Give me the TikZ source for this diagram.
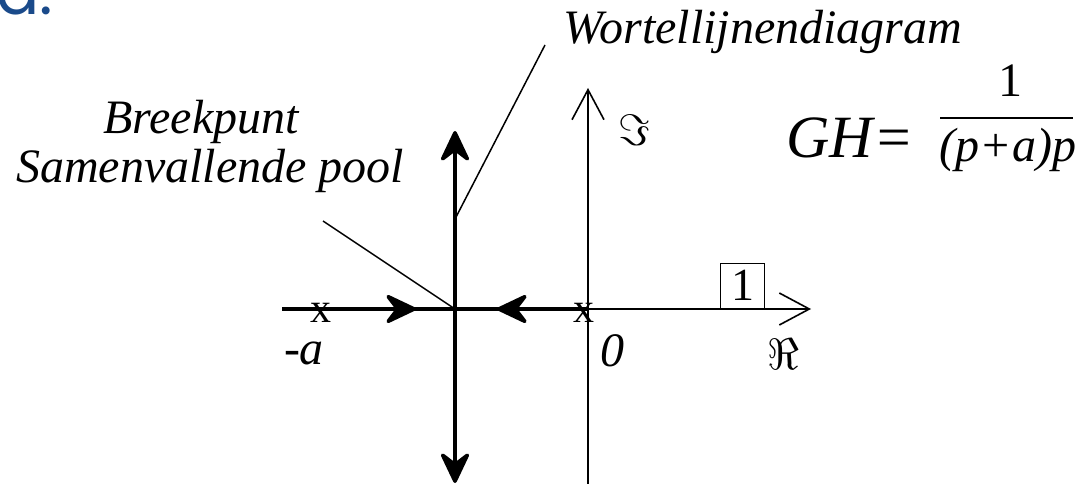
\documentclass[tikz,border=0pt]{standalone}
\usepackage{fontspec}
\setmainfont{Liberation Serif}
\newfontfamily\headfont{Poppins}
\usetikzlibrary{arrows.meta}
\definecolor{headblue}{HTML}{1A4A8A}
\begin{document}
\begin{tikzpicture}[x=1pt,y=-1pt,
  lbl/.style={font=\fontsize{48}{56}\selectfont\itshape, inner sep=0pt, anchor=base},
  upr/.style={font=\fontsize{48}{56}\selectfont, inner sep=0pt, anchor=base},
  axisline/.style={line width=1.6pt},
  axisarrow/.style={axisline, -{Straight Barb[length=30pt,width=32pt,line width=1.6pt]}},
  locus/.style={line width=3.6pt},
  locusarrow/.style={locus, -{Stealth[length=36pt,width=34pt,inset=13pt,round]}},
  leader/.style={line width=1.5pt}
]
\useasboundingbox (0,0) rectangle (1080,484);
\clip (0,0) rectangle (1080,484);

% partial heading at top left
\node[font=\fontsize{64}{70}\selectfont\headfont, text=headblue, inner sep=0pt, anchor=base west] (head) at (-4,15) {d.};

% key points
\coordinate (axL) at (282,309);
\coordinate (axR) at (811,309);
\coordinate (bp) at (455,309);
\coordinate (p0) at (588,309);
\coordinate (imT) at (588,88);
\coordinate (imB) at (588,490);
\coordinate (vT) at (455,131);
\coordinate (vB) at (455,483);
\coordinate (aR) at (416,309);
\coordinate (aL) at (497,309);
\coordinate (samEnd) at (323,221);
\coordinate (worEnd) at (545,45);
\coordinate (worHit) at (455,219);

% axes
\draw[axisarrow] (axL) -- (axR);
\draw[axisarrow] (imB) -- (imT);

% root locus
\draw[locus] (axL) -- (p0);
\draw[locusarrow] (axL) -- (aR);
\draw[locusarrow] (p0) -- (aL);
\draw[locusarrow] (bp) -- (vT);
\draw[locusarrow] (bp) -- (vB);

% leaders
\draw[leader] (samEnd) -- (bp);
\draw[leader] (worEnd) -- (worHit);

% poles
\node[upr, font=\fontsize{42}{48}\selectfont] (xa) at (321,322) {x};
\node[upr, font=\fontsize{42}{48}\selectfont] (x0) at (584,322) {x};

% labels on axes
\node[lbl] (ma) at (304,364) {-a};
\node[lbl] (zero) at (612,366) {0};
\node[inner sep=0pt] (re) at (783,354) {\scalebox{4.4}{$\Re$}};
\node[inner sep=0pt] (im) at (634,130) {\scalebox{4.4}{$\Im$}};

% gain box
\node[draw, line width=1.4pt, minimum width=44pt, minimum height=45pt, inner sep=0pt, anchor=south west, font=\fontsize{46}{50}\selectfont] (one) at (720,309) {\raisebox{-5pt}{1}};

% text labels
\node[lbl] (brk) at (201,134) {Breekpunt};
\node[lbl] (sam) at (210,183) {Samenvallende pool};
\node[lbl] (wor) at (763,44) {Wortellijnendiagram};

% transfer function
\node[lbl, font=\fontsize{60}{66}\selectfont\itshape] (gh) at (850,158) {GH=};
\coordinate (barL) at (940,118);
\coordinate (barR) at (1073,118);
\draw[line width=2pt] (barL) -- (barR);
\node[upr] (num) at (1010,97) {1};
\node[lbl] (den) at (1008,162) {(p+a)p};
\end{tikzpicture}
\end{document}
